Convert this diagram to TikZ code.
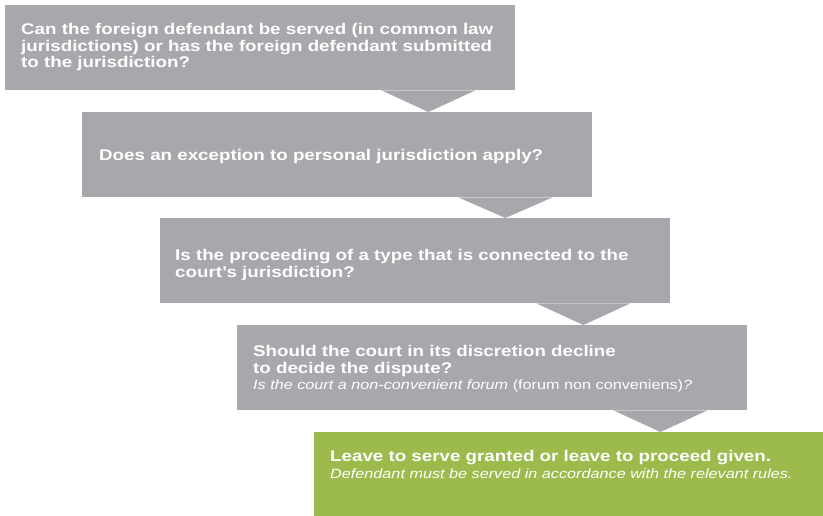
\documentclass[tikz,border=0pt]{standalone}
\usepackage{fontspec}
\newfontfamily\boxfont{Liberation Sans}[FakeStretch=1.21]
\definecolor{qgray}{RGB}{167,168,172}
\definecolor{leafgreen}{RGB}{156,187,76}
\begin{document}
\begin{tikzpicture}[x=1pt, y=-1pt,
    box/.style={rectangle, minimum width=510pt, minimum height=85pt, inner sep=0pt, anchor=north west},
    txt/.style={anchor=north west, inner sep=0pt, align=left, text=white,
        font=\boxfont\bfseries\fontsize{15.5}{16.6}\selectfont}]
    \useasboundingbox (0,0) rectangle (823,516);
    % the five steps
    \foreach \i/\x/\y/\c in {1/5/5/qgray,2/82/112/qgray,3/160/218/qgray,4/237/325/qgray,5/314/432/leafgreen}
    {
    \node[box, fill=\c] (b\i) at (\x,\y) {};
    }
    % pointers from one step down to the next
    \foreach \i/\j in {1/2,2/3,3/4,4/5}
    {
    \path (b\i.south east) ++(-87,0) coordinate (tip\i);
    \fill[qgray] ([xshift=-47pt]tip\i) -- ([xshift=47pt]tip\i) -- (tip\i |- b\j.north) -- cycle;
    }
    \node[txt] (t1) at ([shift={(16,18)}]b1.north west) {Can the foreign defendant be served (in common law\\
        jurisdictions) or has the foreign defendant submitted\\ to the jurisdiction?};
    \node[txt] (t2) at ([shift={(17,37)}]b2.north west) {Does an exception to personal jurisdiction apply?};
    \node[txt] (t3) at ([shift={(15,31)}]b3.north west) {Is the proceeding of a type that is connected to the\\
        court’s jurisdiction?};
    \node[txt] (t4) at ([shift={(16,20)}]b4.north west) {Should the court in its discretion decline\\
        to decide the dispute?\\
        {\mdseries\fontsize{13.4}{16.6}\selectfont\itshape Is the court a non-convenient forum\/ \upshape(forum non conveniens)\itshape?}};
    \node[txt] (t5) at ([shift={(16,18)}]b5.north west) {Leave to serve granted or leave to proceed given.\\
        {\mdseries\fontsize{13.4}{16.6}\selectfont\itshape Defendant must be served in accordance with the relevant rules.}};
\end{tikzpicture}
\end{document}
